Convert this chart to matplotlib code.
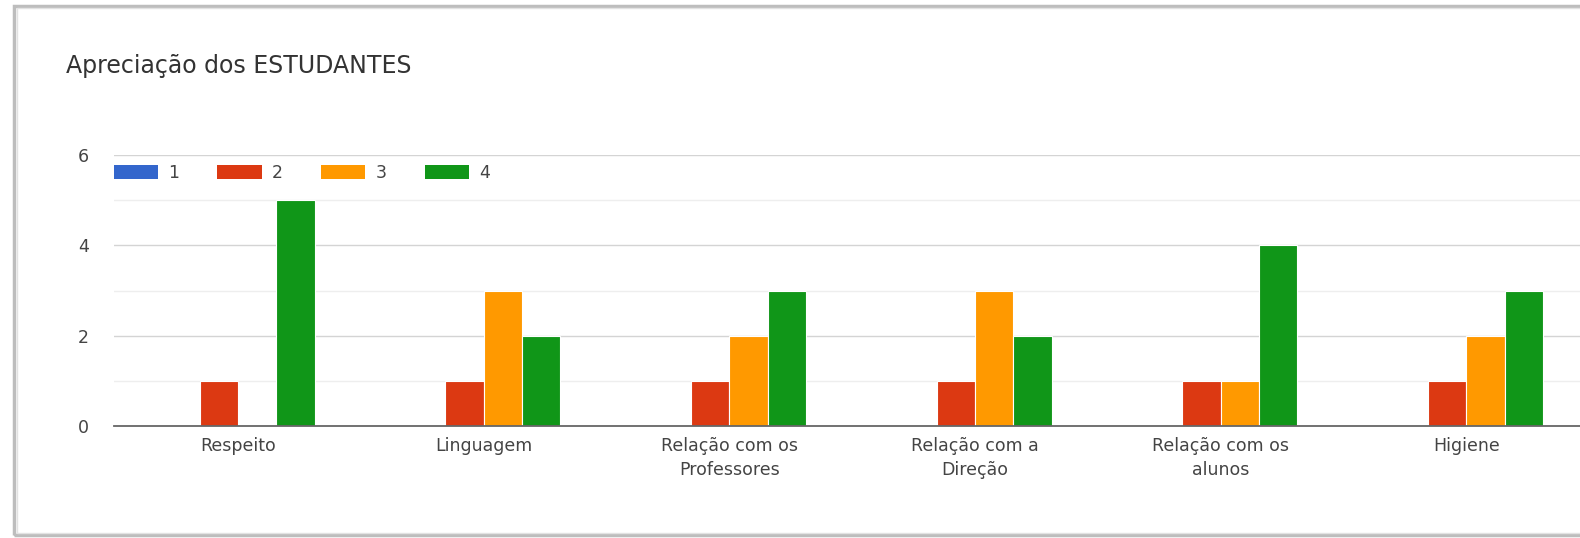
import matplotlib
matplotlib.use("Agg")
import matplotlib.pyplot as plt
from matplotlib.patches import Patch, Rectangle
import numpy as np

plt.rcParams['font.family'] = ['DejaVu Sans']

categories = ["Respeito", "Linguagem", "Relação com os\nProfessores", "Relação com a\nDireção",
              "Relação com os\nalunos", "Higiene"]
series_names = ["1", "2", "3", "4"]
values_1 = [0, 0, 0, 0, 0, 0]
values_2 = [1, 1, 1, 1, 1, 1]
values_3 = [0, 3, 2, 3, 1, 2]
values_4 = [5, 2, 3, 2, 4, 3]
colors = ["#3366cc", "#dc3912", "#ff9900", "#109618"]

series = [values_1, values_2, values_3, values_4]

fig = plt.figure(figsize=(15.8, 5.38), dpi=100)
fig.patch.set_facecolor("white")

# card border with a soft shadow on the left and bottom
fig.patches.append(Rectangle((0.009, 0.006), 1.2, 0.982, transform=fig.transFigure,
                             facecolor="none", edgecolor="#bdbdbd", lw=2.5, zorder=0))
fig.patches.append(Rectangle((0.011, 0.010), 1.2, 0.976, transform=fig.transFigure,
                             facecolor="none", edgecolor="#e2e2e2", lw=1.0, zorder=0))

ax = fig.add_axes([0.0721, 0.2079, 0.9279, 0.5037])

x = np.arange(len(categories))
width = 0.156
for i, (vals, col) in enumerate(zip(series, colors)):
    offs = (i - 1.5) * width
    ax.bar(x + offs, vals, width, color=col, edgecolor="white", linewidth=0.8, zorder=3)

ax.set_xlim(-0.505, 5.463)
ax.set_ylim(0, 6)
ax.set_yticks([0, 2, 4, 6])
ax.set_yticks([1, 3, 5], minor=True)
ax.grid(axis="y", which="major", color="#d4d4d4", lw=1.0, zorder=0)
ax.grid(axis="y", which="minor", color="#eeeeee", lw=1.0, zorder=0)
ax.set_xticks(x)
ax.set_xticklabels(categories, fontsize=12.5, color="#444444", linespacing=1.4)
ax.tick_params(axis="both", which="both", length=0)
ax.tick_params(axis="x", pad=8)
ax.tick_params(axis="y", pad=18, labelsize=12.5, labelcolor="#444444")
for s in ["top", "right", "left"]:
    ax.spines[s].set_visible(False)
ax.spines["bottom"].set_color("#666666")
ax.spines["bottom"].set_linewidth(1.3)
ax.spines["bottom"].set_zorder(4)

fig.text(0.0415, 0.878, "Apreciação dos ESTUDANTES", fontsize=17, color="#333333",
         va="center", ha="left")

handles = [Patch(facecolor=c, edgecolor="none") for c in colors]
ax.legend(handles, series_names, loc="center left", bbox_to_anchor=(0.072, 0.678),
          bbox_transform=fig.transFigure, ncol=4, frameon=False, fontsize=12.5,
          handlelength=2.54, handleheight=0.82, handletextpad=0.6, columnspacing=2.2,
          borderpad=0, borderaxespad=0, labelcolor="#444444")

fig.savefig("out.png", dpi=100, facecolor="white")
